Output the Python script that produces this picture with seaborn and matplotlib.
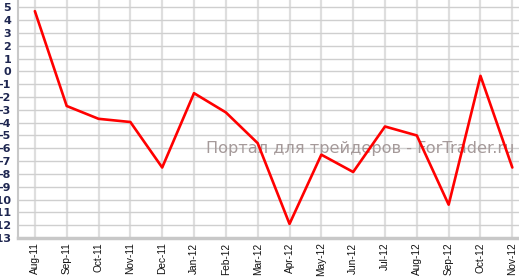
import matplotlib
matplotlib.use("Agg")
import matplotlib.pyplot as plt
import seaborn as sns
import pandas as pd
import numpy as np

months = ["Aug-11", "Sep-11", "Oct-11", "Nov-11", "Dec-11", "Jan-12", "Feb-12",
          "Mar-12", "Apr-12", "May-12", "Jun-12", "Jul-12", "Aug-12", "Sep-12",
          "Oct-12", "Nov-12"]
values = [4.7, -2.7, -3.7, -3.95, -7.5, -1.7, -3.2, -5.6, -11.9, -6.5, -7.85,
          -4.3, -5.0, -10.4, -0.35, -7.5]
yticks = list(range(-13, 6))
watermark = "Портал для трейдеров - ForTrader.ru"

sns.set_style("white")
plt.rcParams['font.family'] = ['DejaVu Sans']

df = pd.DataFrame({"idx": np.arange(len(months)), "value": values})

fig = plt.figure(figsize=(5.19, 2.77), dpi=100)
ax = fig.add_axes([18/519, 39/277, 1 - 18/519, 1 - 39/277])

ax.set_xlim(-0.53, 15.21)
ax.set_ylim(-13, 5.57)

ax.set_yticks(yticks)
ax.set_yticklabels([str(t) for t in yticks])
ax.set_xticks(df["idx"])
ax.set_xticklabels(months, rotation=90, fontsize=7.3, family="Liberation Sans", color="#111111")

ax.grid(axis="y", color="#cfcfcf", linewidth=1.0)
ax.grid(axis="x", color="#dedede", linewidth=1.6)
ax.set_axisbelow(True)

ax.text(0.99, 0.375, watermark, transform=ax.transAxes, ha="right", va="center",
        fontsize=11.6, color="#a59a9a", family="DejaVu Sans", zorder=2)

sns.lineplot(data=df, x="idx", y="value", color="#ff0000", linewidth=1.9, ax=ax, zorder=3)
ax.set_xlabel("")
ax.set_ylabel("")

for s in ["top", "right"]:
    ax.spines[s].set_visible(False)
ax.spines["bottom"].set_color("#c8c8c8")
ax.spines["bottom"].set_linewidth(2.5)
ax.spines["left"].set_color("#c8c8c8")
ax.spines["left"].set_linewidth(1.5)

ax.tick_params(axis="y", which="major", length=3, width=1, color="#b0b0b0", pad=2,
               labelsize=8, labelcolor="#1e2650")
for lbl in ax.get_yticklabels():
    lbl.set_fontweight("bold")
ax.tick_params(axis="x", which="major", length=2.5, width=1, color="#b0b0b0", pad=0.8)

fig.savefig("out.png", dpi=100)
